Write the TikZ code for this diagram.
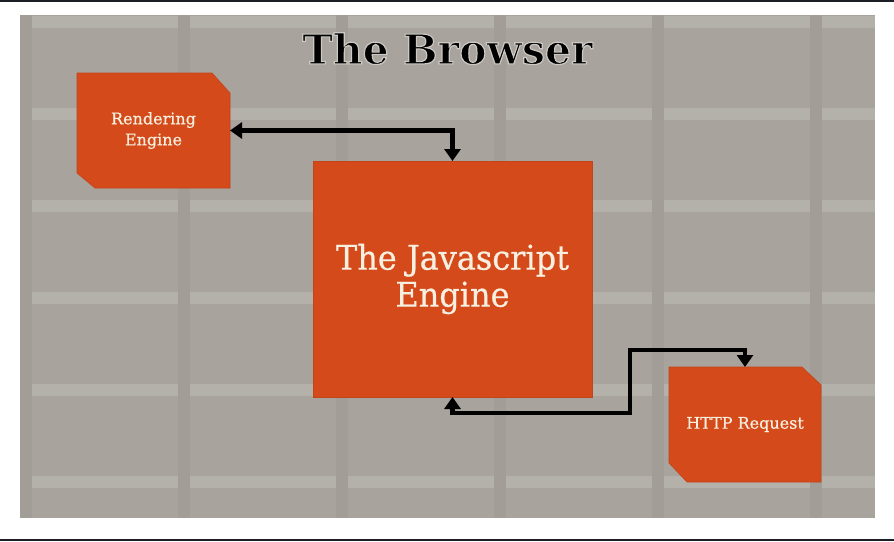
\documentclass[tikz,border=0pt]{standalone}
\usepackage{fontspec}
\setmainfont{DejaVu Serif}
\newfontfamily\slabfont[FakeBold=0.6]{DejaVu Serif}
\usetikzlibrary{calc,arrows.meta}
\definecolor{bggray}{HTML}{A8A39C}
\definecolor{colgray}{HTML}{A29D96}
\definecolor{boxorange}{HTML}{D44A1A}
\definecolor{boxedge}{HTML}{C4441A}
\definecolor{cream}{HTML}{F7EFE0}
\definecolor{topband}{HTML}{1B1E24}
\pgfdeclarelayer{bg}
\pgfdeclarelayer{shapes}
\pgfsetlayers{bg,shapes,main}
\tikzset{
  box/.style={minimum width=#1, inner sep=0pt, outer sep=0pt},
  smalltext/.style={text=cream, align=center, font=\slabfont\fontsize{16}{21}\selectfont},
  bigtext/.style={text=cream, align=center, font=\slabfont\fontsize{34}{37}\selectfont},
  conn/.style={line width=4.5pt, black, {Triangle[length=12pt,width=16pt]}-{Triangle[length=12pt,width=16pt]}},
  titletext/.style={font=\fontsize{41}{41}\selectfont\bfseries, anchor=base, inner sep=0pt},
  lightband/.style={fill=white, fill opacity=0.15},
  darkcol/.style={fill=colgray}
}
\begin{document}
\begin{tikzpicture}[x=1pt,y=-1pt]
\useasboundingbox (0,0) rectangle (894,541);
\begin{pgfonlayer}{bg}
  \fill[white] (0,0) rectangle (894,541);
  \fill[topband] (0,0) rectangle (894,2);
  \fill[topband] (0,539) rectangle (894,541);
  \fill[bggray] (20,15) rectangle (875,518);
  \begin{scope}
    \clip (20,15) rectangle (875,518);
    \foreach \yy in {16,108,200,292,384,476}{
      \fill[lightband] (20,\yy) rectangle (875,\yy+12);
    }
    \foreach \xx in {20,178,336,494,652,810}{
      \fill[darkcol] (\xx,15) rectangle (\xx+12,518);
    }
  \end{scope}
\end{pgfonlayer}
% nodes
\node[box=153pt, minimum height=115pt] (rend) at (153.5,130.5) {};
\node[box=279pt, minimum height=236pt] (js) at (452.5,279) {};
\node[box=152pt, minimum height=115pt] (http) at (745,424.5) {};
\begin{pgfonlayer}{shapes}
  \filldraw[fill=boxorange, draw=boxedge, line width=0.6pt]
    (rend.north west) -- ($(rend.north east)+(-18,0)$) -- ($(rend.north east)+(0,20)$)
    -- (rend.south east) -- ($(rend.south west)+(18,0)$) -- ($(rend.south west)+(0,-15)$) -- cycle;
  \filldraw[fill=boxorange, draw=boxedge, line width=0.6pt]
    (js.north west) rectangle (js.south east);
  \filldraw[fill=boxorange, draw=boxedge, line width=0.6pt]
    (http.north west) -- ($(http.north east)+(-19,0)$) -- ($(http.north east)+(0,18)$)
    -- (http.south east) -- ($(http.south west)+(18,0)$) -- ($(http.south west)+(0,-19)$) -- cycle;
\end{pgfonlayer}
\node[smalltext] at (rend.center) {Rendering\\Engine};
\node[bigtext] at (js.center) {\scalebox{0.94}[1]{The Javascript}\\\scalebox{0.94}[1]{Engine}};
\node[smalltext] at (http.center) {HTTP Request};
% title with light outline
\node[titletext, text=black] (title) at (447.5,64)
  {\special{pdf:literal direct 2 Tr 1.2 w 0.80 0.79 0.77 RG}The Browser\special{pdf:literal direct 0 Tr}};
% connectors
\coordinate (b1) at (630,413);
\coordinate (b2) at (630,350);
\draw[conn] (rend.east) -| (js.north);
\draw[conn] (js.south) |- (b1) -- (b2) -| (http.north);
\end{tikzpicture}
\end{document}
